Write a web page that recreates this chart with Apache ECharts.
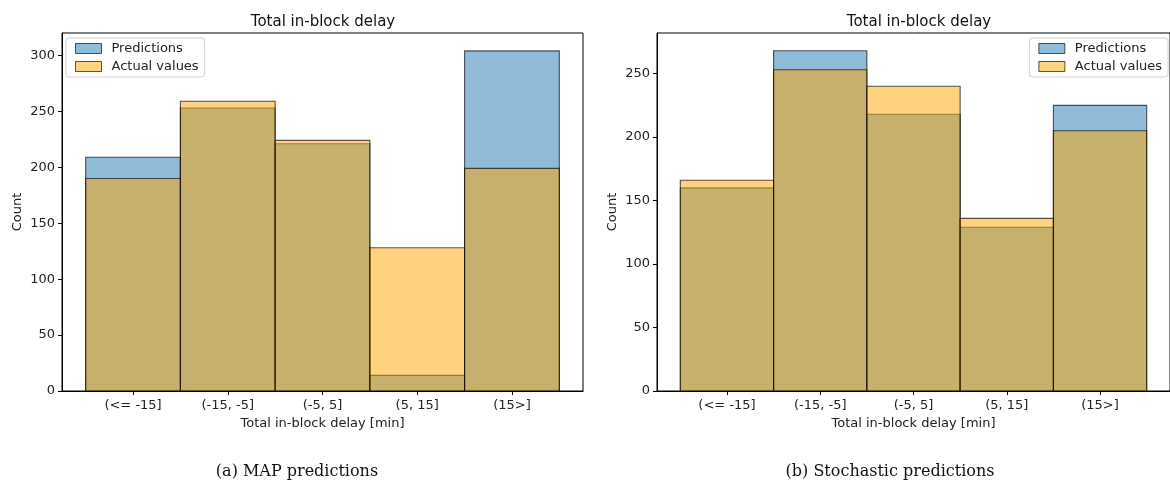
<!DOCTYPE html>
<html>
<head>
<meta charset="utf-8">
<script src="https://cdn.jsdelivr.net/npm/echarts@6/dist/echarts.min.js"></script>
<style>
html,body{margin:0;padding:0;background:#fff;}
#chart{width:1170px;height:484px;}
</style>
</head>
<body>
<div id="chart"></div>
<script>
// ---- data ----
const categories = ['(<= -15]', '(-15, -5]', '(-5, 5]', '(5, 15]', '(15>]'];
const mapPredictions = [209, 253, 221, 14, 304];
const mapActual = [190, 259, 224, 128, 199];
const stochPredictions = [160, 268, 218, 129, 225];
const stochActual = [166, 253, 240, 136, 205];
const leftTicks = [0, 50, 100, 150, 200, 250, 300];
const rightTicks = [0, 50, 100, 150, 200, 250];
const chartTitle = 'Total in-block delay';
const xName = 'Total in-block delay [min]';
const yName = 'Count';
const captionA = '(a) MAP predictions';
const captionB = '(b) Stochastic predictions';

const FONT = 'DejaVu Sans';
const FS = 13;
const BLUE = 'rgba(31,119,180,0.5)';
const ORANGE = 'rgba(255,165,0,0.5)';
const EDGE = 'rgba(0,0,0,0.65)';
const tickIdx = categories.map((c, i) => i);

function toPairs(arr){ return arr.map((v, i) => [i, v]); }

function histSeries(name, data, color, axisIndex){
  return {
    type: 'custom',
    name: name,
    xAxisIndex: axisIndex,
    yAxisIndex: axisIndex,
    itemStyle: {color: color, borderColor: EDGE, borderWidth: 1},
    data: toPairs(data),
    renderItem: function(params, api){
      const i = api.value(0), v = api.value(1);
      const p0 = api.coord([i - 0.5, v]);
      const p1 = api.coord([i + 0.5, 0]);
      return {
        type: 'rect',
        shape: {x: p0[0], y: p0[1], width: p1[0] - p0[0], height: p1[1] - p0[1]},
        style: {fill: color, stroke: EDGE, lineWidth: 1.1}
      };
    }
  };
}

function xAxis(gridIndex){
  return {
    type: 'value', gridIndex: gridIndex, min: -0.75, max: 4.75,
    name: xName, nameLocation: 'middle', nameGap: 26,
    nameTextStyle: {fontFamily: FONT, fontSize: FS, color: '#222'},
    axisLine: {show: true, onZero: false, lineStyle: {color: '#000', width: 1}},
    axisTick: {show: true, length: 4, customValues: tickIdx, lineStyle: {color: '#000'}},
    axisLabel: {customValues: tickIdx, fontFamily: FONT, fontSize: FS, color: '#222', margin: 8,
      formatter: v => categories[Math.round(v)]},
    splitLine: {show: false}
  };
}
function yAxis(gridIndex, max, ticks){
  return {
    type: 'value', gridIndex: gridIndex, min: 0, max: max,
    name: yName, nameLocation: 'middle', nameGap: 38,
    nameTextStyle: {fontFamily: FONT, fontSize: FS, color: '#222'},
    axisLine: {show: true, onZero: false, lineStyle: {color: '#000', width: 1}},
    axisTick: {show: true, length: 4, customValues: ticks, lineStyle: {color: '#000'}},
    axisLabel: {customValues: ticks, fontFamily: FONT, fontSize: FS, color: '#222', margin: 7},
    splitLine: {show: false}
  };
}
function legendData(){
  return [
    {name: 'Predictions', icon: 'rect', itemStyle: {color: BLUE, borderColor: EDGE, borderWidth: 1}},
    {name: 'Actual values', icon: 'rect', itemStyle: {color: ORANGE, borderColor: EDGE, borderWidth: 1}}
  ];
}
const legendCommon = {
  orient: 'vertical', itemWidth: 26, itemHeight: 10, itemGap: 5,
  padding: [4, 6, 4, 9], backgroundColor: '#fff', borderColor: '#d0d0d0', borderWidth: 1, borderRadius: 3,
  textStyle: {fontFamily: FONT, fontSize: FS, color: '#222', padding: [0, 0, 0, 5]}, selectedMode: false
};

const chart = echarts.init(document.getElementById('chart'), null, {renderer: 'canvas'});
chart.setOption({
  animation: false,
  backgroundColor: '#fff',
  title: [
    {text: chartTitle, left: 318, top: 10, textAlign: 'center', textStyle: {fontFamily: FONT, fontSize: 15, fontWeight: 'normal', color: '#111'}},
    {text: chartTitle, left: 914, top: 10, textAlign: 'center', textStyle: {fontFamily: FONT, fontSize: 15, fontWeight: 'normal', color: '#111'}},
    {text: captionA, left: 292, top: 459, textAlign: 'center', textStyle: {fontFamily: 'DejaVu Serif', fontSize: 16, fontWeight: 'normal', color: '#111'}},
    {text: captionB, left: 885, top: 459, textAlign: 'center', textStyle: {fontFamily: 'DejaVu Serif', fontSize: 16, fontWeight: 'normal', color: '#111'}}
  ],
  grid: [
    {left: 62, right: 587, top: 33, bottom: 93, show: true, borderColor: '#000', borderWidth: 1, backgroundColor: 'transparent'},
    {left: 657, right: -7, top: 33, bottom: 93, show: true, borderColor: '#000', borderWidth: 1, backgroundColor: 'transparent'}
  ],
  legend: [
    Object.assign({left: 66, top: 38, data: legendData()}, legendCommon),
    Object.assign({right: 2, top: 38, data: legendData()}, legendCommon)
  ],
  xAxis: [xAxis(0), xAxis(1)],
  yAxis: [yAxis(0, 320, leftTicks), yAxis(1, 282, rightTicks)],
  series: [
    histSeries('Predictions', mapPredictions, BLUE, 0),
    histSeries('Actual values', mapActual, ORANGE, 0),
    histSeries('Predictions', stochPredictions, BLUE, 1),
    histSeries('Actual values', stochActual, ORANGE, 1)
  ]
});
</script>
</body>
</html>
